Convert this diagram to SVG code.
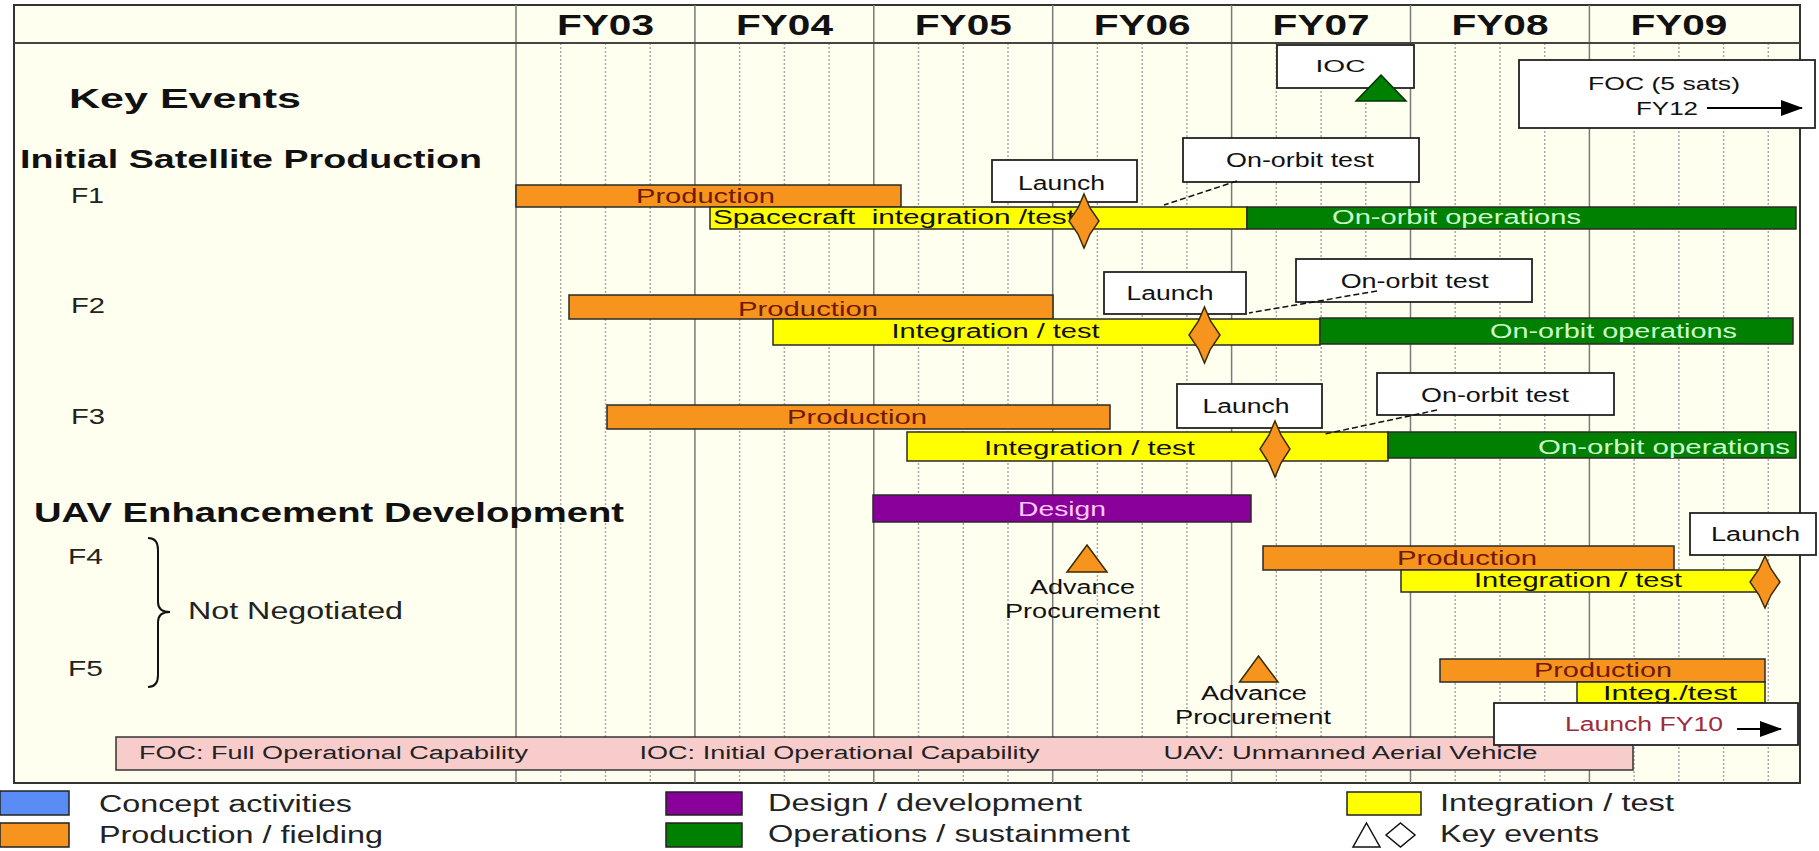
<svg xmlns="http://www.w3.org/2000/svg" width="1819" height="851" viewBox="0 0 1819 851">
<defs>
<style>
text{font-family:"Liberation Sans",Arial,sans-serif;fill:#111}
.b{font-weight:bold}
.bar{stroke:#2a2a2a;stroke-width:1.5}
.prod{fill:#F7941E}
.integ{fill:#FFFF00}
.ops{fill:#008000}
.des{fill:#880099}
.box{fill:#fff;stroke:#222;stroke-width:1.8}
.pt{fill:#6E1A00;font-size:20px}
.gt{fill:#CCFFCC;font-size:20px}
.yt{font-size:20px}
.bt{font-size:20px}
.lg{font-size:23px;fill:#222}
.gr{fill:#222}
text.dt{fill:#FFC8FF}
text.rt{fill:#9B2D3C}
.ev{fill:#F7941E;stroke:#3a2a00;stroke-width:1.5}
.solid{stroke:#7a7a7a;stroke-width:1.5;fill:none}
.dot{stroke:#a8a8a8;stroke-width:1.5;stroke-dasharray:2 2;fill:none}
.conn{stroke:#111;stroke-width:1.5;stroke-dasharray:6 3;fill:none}
</style>
<marker id="ah" markerUnits="userSpaceOnUse" markerWidth="22" markerHeight="16" refX="21" refY="8" orient="auto">
<path d="M0,0 L22,8 L0,16 z" fill="#000"/>
</marker>
</defs>
<rect x="0" y="0" width="1819" height="851" fill="#fff"/>
<g id="frame">
<rect x="14" y="5" width="1786" height="778" fill="#FFFFF0" stroke="#333" stroke-width="2"/>
<path class="dot" d="M560.7,43V783M605.5,43V783M650.2,43V783M739.6,43V783M784.4,43V783M829.1,43V783M918.5,43V783M963.3,43V783M1008,43V783M1097.4,43V783M1142.2,43V783M1186.9,43V783M1276.3,43V783M1321.1,43V783M1365.8,43V783M1455.2,43V783M1500,43V783M1544.7,43V783M1634.1,43V783M1678.9,43V783M1723.6,43V783M1768.3,43V783"/>
<path class="solid" d="M516,5V783M694.9,5V783M873.8,5V783M1052.7,5V783M1231.6,5V783M1410.5,5V783M1589.4,5V783"/>
<line x1="14" y1="43" x2="1800" y2="43" stroke="#444" stroke-width="1.8"/>
</g>
<g id="header">
<text class="b" x="557" y="35" font-size="30" textLength="97" lengthAdjust="spacingAndGlyphs">FY03</text>
<text class="b" x="736" y="35" font-size="30" textLength="97" lengthAdjust="spacingAndGlyphs">FY04</text>
<text class="b" x="914.8" y="35" font-size="30" textLength="97" lengthAdjust="spacingAndGlyphs">FY05</text>
<text class="b" x="1093.7" y="35" font-size="30" textLength="97" lengthAdjust="spacingAndGlyphs">FY06</text>
<text class="b" x="1272.6" y="35" font-size="30" textLength="97" lengthAdjust="spacingAndGlyphs">FY07</text>
<text class="b" x="1451.5" y="35" font-size="30" textLength="97" lengthAdjust="spacingAndGlyphs">FY08</text>
<text class="b" x="1630.4" y="35" font-size="30" textLength="97" lengthAdjust="spacingAndGlyphs">FY09</text>
</g>
<g id="labels">
<text class="b" x="69" y="108" font-size="28" textLength="232" lengthAdjust="spacingAndGlyphs">Key Events</text>
<text class="b" x="20" y="168" font-size="25" textLength="462" lengthAdjust="spacingAndGlyphs">Initial Satellite Production</text>
<text class="gr" x="71" y="203" font-size="22" textLength="33" lengthAdjust="spacingAndGlyphs">F1</text>
<text class="gr" x="71" y="313" font-size="22" textLength="34" lengthAdjust="spacingAndGlyphs">F2</text>
<text class="gr" x="71" y="424" font-size="22" textLength="34" lengthAdjust="spacingAndGlyphs">F3</text>
<text class="b" x="34" y="522" font-size="27" textLength="590" lengthAdjust="spacingAndGlyphs">UAV Enhancement Development</text>
<text class="gr" x="68" y="564" font-size="22" textLength="35" lengthAdjust="spacingAndGlyphs">F4</text>
<text class="gr" x="68" y="676" font-size="22" textLength="35" lengthAdjust="spacingAndGlyphs">F5</text>
<path d="M148,538 Q158,538 158,550 L158,602 Q158,612 170,612 Q158,612 158,622 L158,675 Q158,687 148,687" fill="none" stroke="#111" stroke-width="2"/>
<text class="gr" x="188" y="619" font-size="23" textLength="215" lengthAdjust="spacingAndGlyphs">Not Negotiated</text>
</g>
<g id="key-events">
<rect class="box" x="1277" y="45" width="137" height="43"/>
<text x="1315.5" y="72" font-size="17" textLength="50" lengthAdjust="spacingAndGlyphs">IOC</text>
<polygon points="1381,75 1406,101 1356,101" fill="#008000" stroke="#003300" stroke-width="1.5"/>
<rect class="box" x="1519" y="60" width="296" height="68"/>
<text x="1588" y="90" font-size="19" textLength="152" lengthAdjust="spacingAndGlyphs">FOC (5 sats)</text>
<text x="1636" y="115" font-size="19" textLength="62" lengthAdjust="spacingAndGlyphs">FY12</text>
<line x1="1707" y1="108" x2="1802" y2="108" stroke="#000" stroke-width="2" marker-end="url(#ah)"/>
</g>
<g id="f1">
<rect class="bar prod" x="516" y="185" width="385" height="22"/>
<text class="pt" x="636" y="203" textLength="139" lengthAdjust="spacingAndGlyphs">Production</text>
<rect class="bar integ" x="710" y="207" width="537" height="22"/>
<text class="yt" x="713" y="224" textLength="362" lengthAdjust="spacingAndGlyphs" xml:space="preserve">Spacecraft  integration /test</text>
<rect class="bar ops" x="1247" y="207" width="549" height="22"/>
<text class="gt" x="1332" y="224" textLength="249" lengthAdjust="spacingAndGlyphs">On-orbit operations</text>
<rect class="box" x="992" y="160" width="145" height="42"/>
<text class="bt" x="1018" y="190" textLength="87" lengthAdjust="spacingAndGlyphs">Launch</text>
<rect class="box" x="1183" y="138" width="236" height="44"/>
<text class="bt" x="1226" y="167" textLength="148" lengthAdjust="spacingAndGlyphs">On-orbit test</text>
</g>
<g id="f2">
<rect class="bar prod" x="569" y="295" width="484" height="24"/>
<text class="pt" x="738" y="316" textLength="140" lengthAdjust="spacingAndGlyphs">Production</text>
<rect class="bar integ" x="773" y="319" width="547" height="26"/>
<text class="yt" x="891.5" y="338" textLength="208" lengthAdjust="spacingAndGlyphs">Integration / test</text>
<rect class="bar ops" x="1320" y="318" width="473" height="26"/>
<text class="gt" x="1490" y="338" textLength="247" lengthAdjust="spacingAndGlyphs">On-orbit operations</text>
<rect class="box" x="1104" y="272" width="142" height="42"/>
<text class="bt" x="1126.5" y="300" textLength="87" lengthAdjust="spacingAndGlyphs">Launch</text>
<rect class="box" x="1296" y="259" width="236" height="43"/>
<text class="bt" x="1340.7" y="288" textLength="148" lengthAdjust="spacingAndGlyphs">On-orbit test</text>
</g>
<g id="f3">
<rect class="bar prod" x="607" y="405" width="503" height="24"/>
<text class="pt" x="787" y="424" textLength="140" lengthAdjust="spacingAndGlyphs">Production</text>
<rect class="bar integ" x="907" y="432" width="481" height="29"/>
<text class="yt" x="984" y="455" textLength="211" lengthAdjust="spacingAndGlyphs">Integration / test</text>
<rect class="bar ops" x="1388" y="432" width="408" height="26"/>
<text class="gt" x="1538" y="454" textLength="252" lengthAdjust="spacingAndGlyphs">On-orbit operations</text>
<rect class="box" x="1177" y="384" width="145" height="44"/>
<text class="bt" x="1202.5" y="413" textLength="87" lengthAdjust="spacingAndGlyphs">Launch</text>
<rect class="box" x="1377" y="373" width="237" height="42"/>
<text class="bt" x="1421" y="402" textLength="148" lengthAdjust="spacingAndGlyphs">On-orbit test</text>
</g>
<g id="design">
<rect class="bar des" x="873" y="495" width="378" height="27"/>
<text class="dt" x="1018" y="516" font-size="20" textLength="88" lengthAdjust="spacingAndGlyphs">Design</text>
</g>
<g id="advance-procurement-1">
<polygon class="ev" points="1087,545 1107,572 1067,572"/>
<text x="1030" y="594" font-size="20" textLength="105" lengthAdjust="spacingAndGlyphs">Advance</text>
<text x="1005" y="618" font-size="20" textLength="155" lengthAdjust="spacingAndGlyphs">Procurement</text>
</g>
<g id="f4">
<rect class="bar prod" x="1263" y="546" width="411" height="24"/>
<text class="pt" x="1397" y="565" textLength="140" lengthAdjust="spacingAndGlyphs">Production</text>
<rect class="bar integ" x="1401" y="570" width="364" height="22"/>
<text class="yt" x="1474" y="587" textLength="208" lengthAdjust="spacingAndGlyphs">Integration / test</text>
<rect class="box" x="1690" y="513" width="126" height="42"/>
<text class="bt" x="1711" y="541" textLength="89" lengthAdjust="spacingAndGlyphs">Launch</text>
</g>
<g id="advance-procurement-2">
<polygon class="ev" points="1258.5,656 1278,682 1239.5,682"/>
<text x="1201" y="700" font-size="20" textLength="106" lengthAdjust="spacingAndGlyphs">Advance</text>
<text x="1175" y="724" font-size="20" textLength="156" lengthAdjust="spacingAndGlyphs">Procurement</text>
</g>
<g id="acronyms">
<rect x="116" y="737" width="1517" height="33" fill="#F9CCCC" stroke="#333" stroke-width="1.5"/>
<text class="gr" x="139" y="759" font-size="18" textLength="389" lengthAdjust="spacingAndGlyphs">FOC: Full Operational Capability</text>
<text class="gr" x="639.5" y="759" font-size="18" textLength="400" lengthAdjust="spacingAndGlyphs">IOC: Initial Operational Capability</text>
<text class="gr" x="1163.5" y="759" font-size="18" textLength="374" lengthAdjust="spacingAndGlyphs">UAV: Unmanned Aerial Vehicle</text>
</g>
<g id="f5">
<rect class="bar prod" x="1440" y="659" width="325" height="23"/>
<text class="pt" x="1534" y="677" textLength="138" lengthAdjust="spacingAndGlyphs">Production</text>
<rect class="bar integ" x="1577" y="682" width="188" height="21"/>
<text class="yt" x="1603" y="700" textLength="134" lengthAdjust="spacingAndGlyphs">Integ./test</text>
<rect class="box" x="1494" y="703" width="304" height="42"/>
<text class="rt" x="1565" y="731" font-size="20" textLength="158" lengthAdjust="spacingAndGlyphs">Launch FY10</text>
<line x1="1737" y1="729" x2="1781" y2="729" stroke="#000" stroke-width="2" marker-end="url(#ah)"/>
</g>
<g id="connectors">
<line class="conn" x1="1237" y1="181" x2="1164" y2="205"/>
<line class="conn" x1="1377" y1="291" x2="1249" y2="313"/>
<line class="conn" x1="1437" y1="410" x2="1325" y2="434"/>
</g>
<g id="launch-events">
<polygon class="ev" points="1084,194 1090,208 1099,221 1090,234 1084,248 1078,234 1069,221 1078,208"/>
<polygon class="ev" points="1204.5,307 1210.5,321 1220,335 1210.5,349 1204.5,363 1198.5,349 1189,335 1198.5,321"/>
<polygon class="ev" points="1275,421 1281,435 1290,449 1281,463 1275,477 1269,463 1260,449 1269,435"/>
<polygon class="ev" points="1765,556 1771,569 1780,582 1771,595 1765,608 1759,595 1750,582 1759,569"/>
</g>
<g id="legend">
<rect x="0" y="791" width="69" height="24" fill="#5A8CF5" stroke="#222" stroke-width="1.5"/>
<text class="lg" x="99" y="811.5" textLength="253" lengthAdjust="spacingAndGlyphs">Concept activities</text>
<rect x="0" y="823" width="69" height="24" fill="#F7941E" stroke="#222" stroke-width="1.5"/>
<text class="lg" x="99" y="843" textLength="284" lengthAdjust="spacingAndGlyphs">Production / fielding</text>
<rect x="666" y="792" width="76" height="23" fill="#880099" stroke="#222" stroke-width="1.5"/>
<text class="lg" x="768" y="811" textLength="314" lengthAdjust="spacingAndGlyphs">Design / development</text>
<rect x="666" y="823" width="76" height="24" fill="#008000" stroke="#222" stroke-width="1.5"/>
<text class="lg" x="768" y="841.5" textLength="362" lengthAdjust="spacingAndGlyphs">Operations / sustainment</text>
<rect x="1347" y="792" width="74" height="23" fill="#FFFF00" stroke="#222" stroke-width="1.5"/>
<text class="lg" x="1440" y="811" textLength="234" lengthAdjust="spacingAndGlyphs">Integration / test</text>
<polygon points="1366.5,823 1380,847 1353,847" fill="#fff" stroke="#111" stroke-width="1.5"/>
<polygon points="1400.5,823 1415,835 1400.5,847 1386,835" fill="#fff" stroke="#111" stroke-width="1.5"/>
<text class="lg" x="1440" y="842" textLength="159" lengthAdjust="spacingAndGlyphs">Key events</text>
</g>
</svg>
